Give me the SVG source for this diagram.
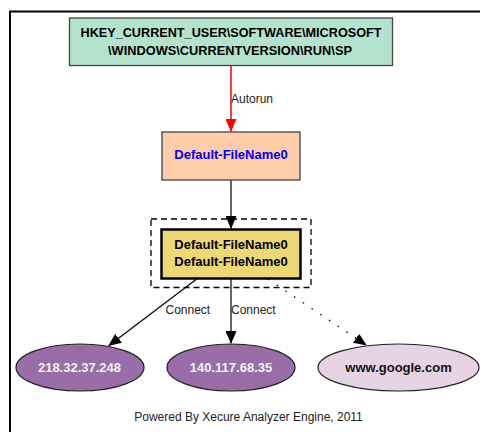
<svg xmlns="http://www.w3.org/2000/svg" width="480" height="432" viewBox="0 0 480 432">
<style>
.b{font-family:"Liberation Sans",Arial,sans-serif;font-weight:bold;font-size:13px;text-anchor:middle}
.l{font-family:"Liberation Sans",Arial,sans-serif;font-size:12px;fill:#222}
.e{stroke:#333;stroke-width:1.5;fill:none}
.ell{stroke:#222;stroke-width:1.2}
</style>
<defs>
<marker id="ab" viewBox="0 0 13 11" refX="12" refY="5.5" markerWidth="13" markerHeight="11" markerUnits="userSpaceOnUse" orient="auto"><path d="M0,0 L13,5.5 L0,11 z" fill="#000"/></marker>
<marker id="ar" viewBox="0 0 13 11" refX="12" refY="5.5" markerWidth="13" markerHeight="11" markerUnits="userSpaceOnUse" orient="auto"><path d="M0,0 L13,5.5 L0,11 z" fill="#ff0000"/></marker>
</defs>
<rect width="480" height="432" fill="#fff"/>
<rect x="10" y="11.5" width="520" height="460" fill="none" stroke="#000" stroke-width="2"/>
<g id="connectors">
<line x1="231" y1="66" x2="231" y2="131" stroke="#ff0000" stroke-width="1.5" marker-end="url(#ar)"/>
<text class="l" x="231" y="102.5">Autorun</text>
<line class="e" x1="231" y1="180" x2="231" y2="228" marker-end="url(#ab)"/>
<line x1="198" y1="278" x2="109" y2="345.5" stroke="#000" stroke-width="1.2" marker-end="url(#ab)"/>
<text class="l" x="165.5" y="313.5">Connect</text>
<line class="e" x1="231" y1="279" x2="231" y2="343" marker-end="url(#ab)"/>
<text class="l" x="231" y="313.5">Connect</text>
<line x1="268" y1="279" x2="366" y2="345" stroke="#000" stroke-width="1.3" stroke-dasharray="1.5,9" marker-end="url(#ab)"/>
</g>
<g id="n_reg">
<rect x="69.5" y="18" width="323" height="47.5" fill="#b3e3cd" stroke="#444" stroke-width="1.3"/>
<text class="b" x="231" y="37.3" textLength="301" lengthAdjust="spacingAndGlyphs">HKEY_CURRENT_USER\SOFTWARE\MICROSOFT</text>
<text class="b" x="230" y="54.5" textLength="244" lengthAdjust="spacingAndGlyphs">\WINDOWS\CURRENTVERSION\RUN\SP</text>
</g>
<g id="n_file">
<rect x="162" y="132" width="138" height="48" fill="#fdcdaa" stroke="#444" stroke-width="1.3"/>
<text class="b" x="231" y="159" fill="#0000ee">Default-FileName0</text>
</g>
<g id="n_group">
<rect x="151" y="219" width="160" height="68.5" fill="none" stroke="#000" stroke-width="1.3" stroke-dasharray="6,4"/>
<rect x="161.5" y="229.5" width="139" height="49" fill="#ecd876" stroke="#000" stroke-width="2.5"/>
<text class="b" x="231" y="249">Default-FileName0</text>
<text class="b" x="231" y="266">Default-FileName0</text>
</g>
<g id="n_ip1">
<ellipse class="ell" cx="80" cy="367.5" rx="64" ry="23.5" fill="#9a6ca8"/>
<text class="b" x="79.5" y="371.7" fill="#f2f2f2">218.32.37.248</text>
</g>
<g id="n_ip2">
<ellipse class="ell" cx="231" cy="367.5" rx="64" ry="23.5" fill="#9a6ca8"/>
<text class="b" x="231" y="371.7" fill="#f2f2f2">140.117.68.35</text>
</g>
<g id="n_google">
<ellipse class="ell" cx="398.5" cy="367.5" rx="80.5" ry="23.5" fill="#e6d3e6"/>
<text class="b" x="398.5" y="371.7" fill="#111">www.google.com</text>
</g>
<text class="l" x="248.5" y="420.5" text-anchor="middle" fill="#111">Powered By Xecure Analyzer Engine, 2011</text>
</svg>
